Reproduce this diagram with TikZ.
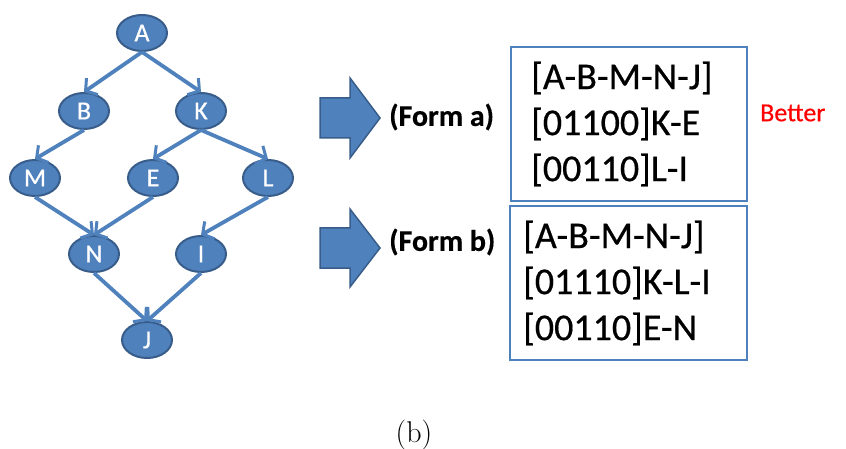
\documentclass[tikz,border=0pt]{standalone}
\usepackage{fontspec}
\newfontfamily\calfont[FakeBold=0.5]{Carlito}
\newfontfamily\calbfont[FakeBold=0.4]{Carlito}
\usetikzlibrary{arrows.meta,shapes.geometric,shapes.arrows}
\definecolor{ofblue}{HTML}{4F81BD}
\definecolor{ofdark}{HTML}{385D8A}
\begin{document}
\begin{tikzpicture}[x=1pt,y=-1pt,
  gnode/.style={ellipse,draw=ofdark,line width=2pt,fill=ofblue,text=white,
    minimum width=50pt,minimum height=36pt,inner sep=0pt,
    font=\calfont\fontsize{26}{26}\selectfont},
  gedge/.style={draw=ofblue,line width=3.8pt,-{Straight Barb[length=8pt,width=20pt,line width=3pt]}},
  blockarr/.style={fill=ofblue,draw=ofdark,line width=1.5pt},
  formlab/.style={font=\calbfont\bfseries\fontsize{30}{30}\selectfont,anchor=west,inner sep=0pt},
  boxtxt/.style={font=\calfont\fontsize{38}{46}\selectfont,align=left,anchor=west,inner sep=0pt},
  fbox/.style={draw=ofblue,line width=2.8pt}]
\useasboundingbox (0,0) rectangle (846,449);
% graph nodes
\node[gnode] (A) at (142,33) {A};
\node[gnode] (B) at (84,111) {B};
\node[gnode] (K) at (201,111) {K};
\node[gnode] (M) at (35,178) {M};
\node[gnode] (E) at (153,178) {E};
\node[gnode] (L) at (268,178) {L};
\node[gnode] (N) at (94,254) {N};
\node[gnode] (I) at (201,254) {I};
\node[gnode] (J) at (147,340) {J};
\draw[gedge] (A.south) -- (B.north);
\draw[gedge] (A.south) -- (K.north);
\draw[gedge] (B.south) -- (M.north);
\draw[gedge] (K.south) -- (E.north);
\draw[gedge] (K.south) -- (L.north);
\draw[gedge] (M.south) -- (N.north);
\draw[gedge] (E.south) -- (N.north);
\draw[gedge] (L.south) -- (I.north);
\draw[gedge] (N.south) -- (J.north);
\draw[gedge] (I.south) -- (J.north);
% block arrows
\draw[blockarr] (320,98) -- (350,98) -- (350,78) -- (380,118) -- (350,158) -- (350,138) -- (320,138) -- cycle;
\draw[blockarr] (320,228) -- (350,228) -- (350,209) -- (380,248) -- (350,287) -- (350,268) -- (320,268) -- cycle;
% labels
\node[formlab] (fa) at (389,117) {(Form a)};
\node[formlab] (fb) at (389,242) {(Form b)};
% boxes
\draw[fbox] (511,47) rectangle (747,201);
\draw[fbox] (510,206) rectangle (747,360);
\node[boxtxt] (ta1) at (531,78) {[A-B-M-N-J]};
\node[boxtxt] (ta2) at (531,124) {[01100]K-E};
\node[boxtxt] (ta3) at (531,170) {[00110]L-I};
\node[boxtxt] (tb1) at (523,237) {[A-B-M-N-J]};
\node[boxtxt] (tb2) at (523,283) {[01110]K-L-I};
\node[boxtxt] (tb3) at (523,329) {[00110]E-N};
\node[font=\calfont\fontsize{26}{26}\selectfont,text=red,anchor=west,inner sep=0pt] (better) at (760,113) {Better};
\node[font=\fontsize{30}{30}\selectfont,inner sep=0pt] (cap) at (414,435) {(b)};
\end{tikzpicture}
\end{document}
